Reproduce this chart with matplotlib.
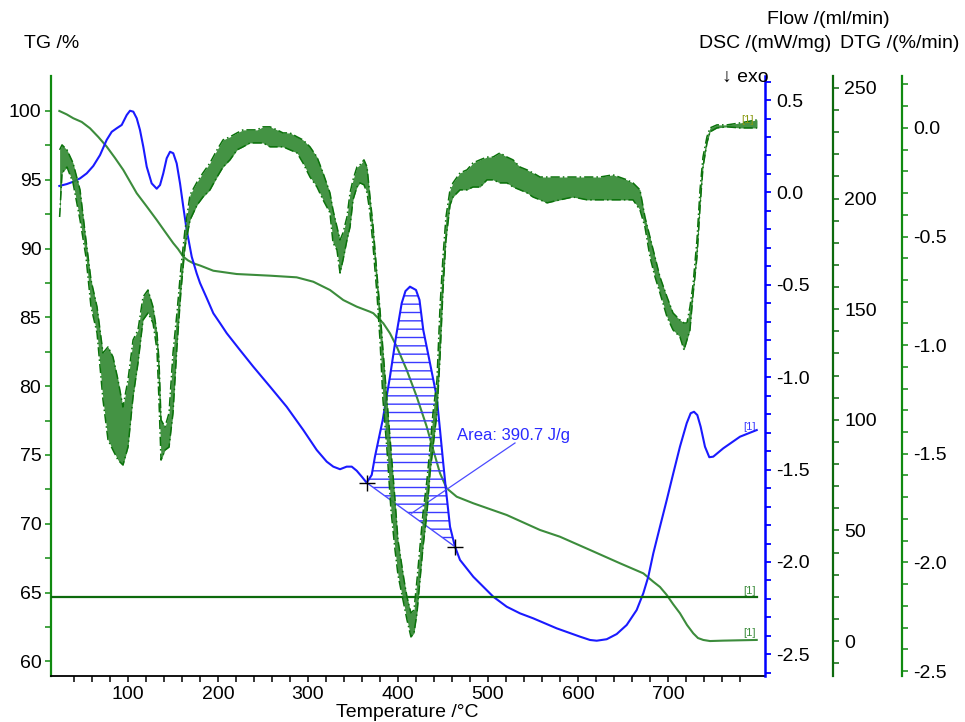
import numpy as np
import matplotlib
matplotlib.use('Agg')
import matplotlib.pyplot as plt
from matplotlib.ticker import MultipleLocator, FixedLocator, FormatStrFormatter

plt.rcParams['font.family'] = ['Liberation Sans', 'DejaVu Sans']
plt.rcParams['axes.unicode_minus'] = False
plt.rcParams['hatch.linewidth'] = 1.0

# ---------------- data ----------------
tg_T = [23.7, 31.9, 39.2, 48.6, 57.8, 67.0, 76.3, 85.6, 94.8, 102.2, 109.7, 120.8, 131.9,
        141.1, 150.3, 155.6, 161.4, 166.7, 172.6, 180.0, 194.8, 220.8, 257.8, 287.4, 305.9,
        324.4, 339.2, 354.1, 368.9, 372.6, 383.7, 391.1, 398.6, 409.7, 420.8, 431.9, 439.2,
        446.7, 454.1, 465.2, 483.7, 520.8, 557.8, 580.0, 613.3, 646.7, 672.6, 683.7, 691.1,
        698.6, 705.6, 713.3, 721.1, 728.1, 733.3, 739.2, 746.7, 761.4, 798.6]
tg = [100.0, 99.75, 99.47, 99.20, 98.74, 98.11, 97.41, 96.58, 95.71, 94.87, 94.02, 93.06,
      92.08, 91.23, 90.39, 89.97, 89.41, 89.14, 88.93, 88.77, 88.39, 88.15, 88.03, 87.91,
      87.59, 86.99, 86.26, 85.78, 85.41, 85.30, 84.57, 83.84, 82.87, 81.18, 79.24, 77.06,
      75.36, 73.67, 72.58, 71.97, 71.49, 70.64, 69.55, 69.06, 68.10, 67.13, 66.40, 65.79,
      65.41, 64.83, 64.17, 63.50, 62.65, 62.04, 61.70, 61.56, 61.48, 61.51, 61.56]

dsc_T = [23.7, 31.9, 39.2, 46.7, 54.1, 61.4, 68.9, 76.3, 81.9, 87.4, 93.0, 98.6, 102.2, 105.9,
         109.7, 113.3, 117.0, 120.8, 126.3, 131.9, 135.6, 139.2, 143.0, 146.7, 150.3, 154.1,
         157.8, 161.4, 165.2, 170.8, 176.3, 180.0, 187.4, 194.8, 202.2, 209.7, 224.4, 239.2,
         257.8, 276.3, 294.8, 309.7, 320.8, 328.1, 335.6, 343.0, 348.6, 354.1, 359.7, 365.2,
         370.8, 374.4, 383.0, 391.1, 397.8, 404.1, 408.3, 413.3, 420.0, 423.9, 428.1, 435.6,
         443.0, 446.7, 450.3, 453.3, 457.8, 463.3, 468.9, 483.7, 494.8, 505.9, 520.8, 535.6,
         550.3, 576.3, 602.2, 613.3, 620.8, 631.9, 643.0, 654.1, 665.2, 672.6, 678.1, 683.7,
         691.1, 698.6, 705.9, 713.3, 720.8, 725.2, 728.9, 732.6, 736.3, 741.1, 745.9, 750.3,
         761.4, 780.0, 798.6]
dsc = [0.035, 0.045, 0.058, 0.076, 0.103, 0.143, 0.202, 0.284, 0.328, 0.347, 0.365, 0.419,
       0.442, 0.437, 0.401, 0.338, 0.247, 0.139, 0.049, 0.020, 0.040, 0.103, 0.185, 0.220,
       0.212, 0.157, 0.049, -0.077, -0.203, -0.348, -0.438, -0.490, -0.571, -0.654, -0.707,
       -0.762, -0.853, -0.943, -1.051, -1.160, -1.286, -1.394, -1.457, -1.484, -1.498, -1.484,
       -1.484, -1.506, -1.538, -1.571, -1.529, -1.430, -1.232, -0.997, -0.781, -0.600, -0.534,
       -0.510, -0.528, -0.582, -0.745, -0.925, -1.106, -1.286, -1.466, -1.610, -1.809, -1.917,
       -1.989, -2.080, -2.134, -2.188, -2.242, -2.278, -2.305, -2.359, -2.404, -2.422, -2.426,
       -2.418, -2.390, -2.341, -2.260, -2.169, -2.080, -1.953, -1.809, -1.665, -1.520, -1.376,
       -1.249, -1.195, -1.187, -1.205, -1.268, -1.376, -1.433, -1.430, -1.385, -1.322, -1.286]

dtg_T = [24, 26.7, 32.2, 38.9, 46.7, 53.3, 58.9, 65.6, 72.2, 77.8, 83.3, 88.9, 94.4, 100,
         105.6, 111.1, 116.7, 122.2, 127.8, 132.2, 134.4, 136.7, 141.1, 145.6, 150, 154.4,
         158.9, 163.3, 168.9, 176.7, 183.3, 191.1, 198.9, 205.6, 213.3, 221.1, 227.8, 235.6,
         243.3, 250, 257.8, 265.6, 272.2, 280, 287.8, 294.4, 302.2, 310, 316.7, 324.4, 327.8,
         332.2, 335.6, 338.9, 343.3, 346.7, 350, 354.4, 357.8, 362.2, 365.6, 368.9, 372.2,
         376.7, 380, 383.3, 387.8, 392.2, 396.7, 400, 403.3, 406.7, 410, 414.4, 417.8, 421.1,
         424.4, 427.8, 432.2, 435.6, 438.9, 443.3, 446.7, 450, 453.3, 457.8, 461.1, 468.9,
         476.7, 483.3, 491.1, 498.9, 505.6, 513.3, 521.1, 527.8, 535.6, 543.3, 550, 557.8,
         565.6, 580, 594.4, 610, 624.4, 638.9, 654.4, 661.1, 668.9, 674.4, 680, 685.6, 691.1,
         698.9, 705.6, 713.3, 717.8, 721.1, 724.4, 727.8, 732.2, 735.6, 738.9, 743.3, 746.7,
         754.4, 765.6, 780, 798.9]
dtg_hi = [-0.101, -0.078, -0.101, -0.161, -0.285, -0.516, -0.700, -0.824, -1.036, -1.008,
          -1.054, -1.160, -1.285, -1.160, -0.976, -0.930, -0.778, -0.746, -0.824, -0.944,
          -1.068, -1.344, -1.377, -1.312, -1.036, -0.852, -0.640, -0.470, -0.308, -0.249,
          -0.207, -0.161, -0.101, -0.055, -0.041, -0.023, -0.009, -0.009, -0.009, 0.005, 0.005,
          -0.009, -0.023, -0.023, -0.041, -0.055, -0.087, -0.134, -0.207, -0.299, -0.378,
          -0.456, -0.516, -0.483, -0.410, -0.299, -0.239, -0.180, -0.170, -0.147, -0.180,
          -0.318, -0.447, -0.677, -0.838, -1.022, -1.252, -1.483, -1.713, -1.897, -1.989,
          -2.081, -2.159, -2.233, -2.219, -2.081, -1.929, -1.773, -1.621, -1.469, -1.312,
          -1.160, -0.824, -0.594, -0.410, -0.285, -0.253, -0.207, -0.193, -0.161, -0.147,
          -0.134, -0.134, -0.115, -0.134, -0.147, -0.180, -0.193, -0.207, -0.226, -0.226,
          -0.226, -0.226, -0.226, -0.226, -0.216, -0.239, -0.253, -0.285, -0.410, -0.502,
          -0.594, -0.686, -0.778, -0.852, -0.884, -0.898, -0.898, -0.824, -0.723, -0.516,
          -0.285, -0.134, -0.041, 0.000, 0.014, 0.014, 0.023, 0.037]
dtg_lo = [-0.410, -0.207, -0.180, -0.253, -0.424, -0.594, -0.824, -0.944, -1.252, -1.436,
          -1.483, -1.529, -1.552, -1.469, -1.238, -1.082, -0.884, -0.852, -0.898, -1.022,
          -1.252, -1.529, -1.483, -1.469, -1.312, -1.008, -0.746, -0.548, -0.424, -0.355,
          -0.318, -0.285, -0.226, -0.180, -0.147, -0.101, -0.087, -0.069, -0.069, -0.069,
          -0.087, -0.087, -0.087, -0.101, -0.115, -0.161, -0.226, -0.272, -0.331, -0.391,
          -0.529, -0.562, -0.668, -0.608, -0.516, -0.456, -0.331, -0.272, -0.253, -0.262,
          -0.299, -0.391, -0.539, -0.769, -0.976, -1.252, -1.483, -1.759, -1.943, -2.058,
          -2.127, -2.196, -2.265, -2.343, -2.325, -2.233, -2.081, -1.929, -1.773, -1.588,
          -1.469, -1.312, -1.054, -0.746, -0.516, -0.355, -0.318, -0.285, -0.285, -0.272,
          -0.272, -0.239, -0.239, -0.253, -0.253, -0.272, -0.285, -0.299, -0.318, -0.331,
          -0.345, -0.331, -0.318, -0.331, -0.331, -0.331, -0.331, -0.331, -0.378, -0.456,
          -0.594, -0.686, -0.760, -0.870, -0.930, -0.962, -1.022, -0.976, -0.930, -0.769,
          -0.594, -0.364, -0.180, -0.069, -0.018, 0.000, 0.005, 0.000, 0.000]

flow_T = [15.0, 798.6]
flow = [20.0, 20.0]

peak_T = [365.2, 463.3]          # integration limits
peak_dsc = [-1.571, -1.917]
area_text = "Area: 390.7 J/g"

# ---------------- styles ----------------
W, H = 965, 722
C_TG = '#3c8c3c'
C_DTG = '#0b720b'
C_DTG_FILL = '#2f872f'
C_FLOW = '#0d6a0d'
C_GAX = '#108a10'
C_BLUE = '#1a1aff'
FS = 14

fig = plt.figure(figsize=(W / 100, H / 100), dpi=100)
L, R, B, T = 51, 765, 676, 76
ax = fig.add_axes([L / W, 1 - B / H, (R - L) / W, (B - T) / H])
ax.patch.set_alpha(0)

ax_dsc = ax.twinx()
ax_flow = ax.twinx()
ax_dtg = ax.twinx()
for a in (ax_dsc, ax_flow, ax_dtg):
    a.patch.set_alpha(0)

ax_flow.spines['right'].set_position(('axes', (833 - L) / (R - L)))
ax_dtg.spines['right'].set_position(('axes', (902 - L) / (R - L)))

for a in (ax, ax_dsc, ax_flow, ax_dtg):
    a.spines['top'].set_visible(False)
ax.spines['right'].set_visible(False)
for a in (ax_dsc, ax_flow, ax_dtg):
    a.spines['left'].set_visible(False)
    a.spines['bottom'].set_visible(False)

ax.spines['left'].set_color(C_GAX)
ax.spines['left'].set_linewidth(1.6)
ax.spines['bottom'].set_color('black')
ax.spines['bottom'].set_linewidth(1.3)
ax_dsc.spines['right'].set_color('#0000ff')
ax_dsc.spines['right'].set_linewidth(1.8)
ax_flow.spines['right'].set_color(C_FLOW)
ax_flow.spines['right'].set_linewidth(1.6)
ax_dtg.spines['right'].set_color(C_GAX)
ax_dtg.spines['right'].set_linewidth(1.6)

# limits
ax.set_xlim(14.44, 807.8)
ax.set_ylim(58.94, 102.54)
ax_dsc.set_ylim(-2.617, 0.630)
ax_flow.set_ylim(-15.8, 255.4)
ax_dtg.set_ylim(-2.523, 0.239)

# ticks
ax.xaxis.set_major_locator(FixedLocator([100, 200, 300, 400, 500, 600, 700]))
ax.xaxis.set_minor_locator(FixedLocator(list(range(40, 800, 20))))
ax.yaxis.set_major_locator(FixedLocator([60, 65, 70, 75, 80, 85, 90, 95, 100]))
ax.yaxis.set_minor_locator(FixedLocator([62.5, 67.5, 72.5, 77.5, 82.5, 87.5, 92.5, 97.5]))
ax.tick_params(axis='x', which='both', direction='out', length=4, width=1.1,
               color='black', labelsize=FS, pad=3)
ax.tick_params(axis='y', which='both', direction='out', length=4, width=1.1,
               color=C_GAX, labelsize=FS, pad=3)

ax_dsc.yaxis.set_major_locator(MultipleLocator(0.5))
ax_dsc.yaxis.set_minor_locator(MultipleLocator(0.1))
ax_dsc.yaxis.set_major_formatter(FormatStrFormatter('%.1f'))
ax_dsc.tick_params(axis='y', which='both', direction='out', length=4, width=1.3,
                   color='#0000ff', labelsize=FS, pad=4)

ax_flow.yaxis.set_major_locator(MultipleLocator(50))
ax_flow.yaxis.set_minor_locator(MultipleLocator(10))
ax_flow.tick_params(axis='y', which='both', direction='out', length=4, width=1.1,
                    color=C_FLOW, labelsize=FS, pad=4)

ax_dtg.yaxis.set_major_locator(MultipleLocator(0.5))
ax_dtg.yaxis.set_minor_locator(MultipleLocator(0.1))
ax_dtg.yaxis.set_major_formatter(FormatStrFormatter('%.1f'))
ax_dtg.tick_params(axis='y', which='both', direction='out', length=4, width=1.1,
                   color=C_GAX, labelsize=FS, pad=4)

# ---------------- curves ----------------
dT = np.array(dtg_T)
hi = np.array(dtg_hi)
lo = np.array(dtg_lo)
ax_dtg.fill_between(dT, lo, hi, color=C_DTG_FILL, alpha=0.9, lw=0, zorder=2)
ax_dtg.plot(dT, hi, color=C_DTG, lw=1.1, ls=(0, (6, 2, 1, 2)), zorder=2)
ax_dtg.plot(dT, lo, color=C_DTG, lw=1.1, ls=(0, (6, 2, 1, 2)), zorder=2)

ax_flow.plot(flow_T, flow, color=C_FLOW, lw=1.6, zorder=3)
ax.plot(tg_T, tg, color=C_TG, lw=1.5, zorder=3, solid_joinstyle='round')
ax_dsc.plot(dsc_T, dsc, color=C_BLUE, lw=1.5, zorder=4, solid_joinstyle='round')

# peak integration hatch
sT = np.array(dsc_T)
sV = np.array(dsc)
inside = (sT > peak_T[0]) & (sT < peak_T[1])
polyT = [peak_T[0]] + list(sT[inside]) + [peak_T[1]]
polyV = [peak_dsc[0]] + list(sV[inside]) + [peak_dsc[1]]
ax_dsc.fill(polyT, polyV, facecolor='none', edgecolor='#3a3aff', hatch='--', lw=0, zorder=3)
ax_dsc.plot(peak_T, peak_dsc, color='#4b4bff', lw=1.0, zorder=4)
ax_dsc.plot(peak_T, peak_dsc, ls='none', marker='+', ms=12, mew=1.0, color='black', zorder=5)

# area annotation
ax_dsc.plot([415.2, 530.0], [-1.736, -1.356], color='#4b4bff', lw=0.9, zorder=4)
ax_dsc.text(465.6, -1.313, area_text, color='#2a2aff', fontsize=12, ha='left', va='center',
            zorder=5)

# [1] labels at curve ends
ax_dsc.text(791, -1.27, '[1]', color='#3a3aff', fontsize=8, ha='center', va='center')
ax_flow.text(791, 22.6, '[1]', color='#3c8c3c', fontsize=8, ha='center', va='center')
ax.text(791, 62.07, '[1]', color='#3c8c3c', fontsize=8, ha='center', va='center')
ax_dtg.text(788, 0.037, '[1]', color='#8a9a10', fontsize=8, ha='center', va='center')

# ---------------- axis titles ----------------
fig.text(24 / W, 1 - 43 / H, 'TG /%', fontsize=FS, ha='left', va='center')
fig.text(828 / W, 1 - 20 / H, 'Flow /(ml/min)', fontsize=FS, ha='center', va='center')
fig.text(765 / W, 1 - 43 / H, 'DSC /(mW/mg)', fontsize=FS, ha='center', va='center')
fig.text(900 / W, 1 - 43 / H, 'DTG /(%/min)', fontsize=FS, ha='center', va='center')
fig.text(745 / W, 1 - 77 / H, '↓ exo', fontsize=FS, ha='center', va='center',
         family=['Liberation Sans', 'DejaVu Sans'])
fig.text(407 / W, 1 - 704 / H, 'Temperature /°C', fontsize=FS, ha='center', va='top')

fig.savefig('out.png', dpi=100)
